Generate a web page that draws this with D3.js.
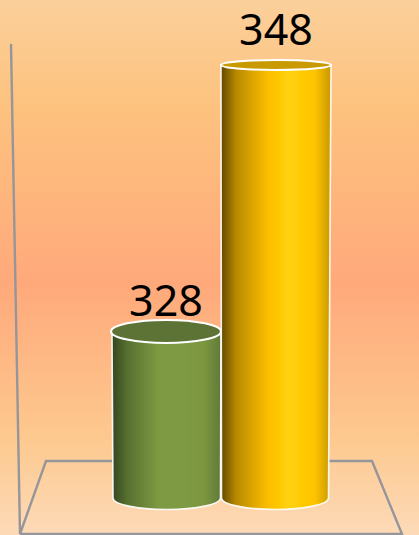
<!DOCTYPE html>
<html><head><meta charset="utf-8">
<style>html,body{margin:0;padding:0;overflow:hidden;background:#fdd9b5}svg{display:block}</style>
<script src="https://cdn.jsdelivr.net/npm/d3@7/dist/d3.min.js"></script>
</head><body><svg id="c" width="419" height="535"></svg>
<script>
const categories = ["A", "B"];
const values = [328, 348];
const sideStops = [
  ["#344620","#56702f","#7d9942","#7f9b43","#7b9640","#5f7a38"],
  ["#614800","#b98a00","#fbbd00","#ffd20a","#ffc400","#c79800"]
];
const stopOffsets = [0, 0.14, 0.42, 0.62, 0.85, 1];
const topFills = ["#5c7335", "#c99a00"];
const bgColors = ["#fbd09b","#fdc27e","#ffa97b","#fdc98f","#fddab8"];
const bgOffsets = [0, 0.2, 0.53, 0.82, 1];

const svg = d3.select("#c");
const defs = svg.append("defs");
const bg = defs.append("linearGradient").attr("id","bg").attr("x1",0).attr("x2",0).attr("y1",0).attr("y2",1);
bgColors.forEach((c,i)=>bg.append("stop").attr("offset",bgOffsets[i]).attr("stop-color",c));
svg.append("rect").attr("width",419).attr("height",535).attr("fill","url(#bg)");

const soft = defs.append("filter").attr("id","soft");
soft.append("feGaussianBlur").attr("stdDeviation",0.35);

const x = d3.scaleBand().domain(categories).range([111,331]).paddingInner(0);
const y = d3.scaleLinear().domain([315.5,348]).range([498,65]);
const ry = 11.5;

// walls/floor frame
const frame = [[11,44],[20,534],[46,461],[372,461],[402,534],[20,534]];
svg.append("path").attr("d",d3.line()(frame)).attr("fill","none").attr("stroke","#96969a").attr("stroke-width",2.4).attr("filter","url(#soft)");

categories.forEach((c,i)=>{
  const g = defs.append("linearGradient").attr("id","s"+i);
  sideStops[i].forEach((col,j)=>g.append("stop").attr("offset",stopOffsets[j]).attr("stop-color",col));
});

const bars = svg.selectAll("g.bar").data(categories).join("g").attr("class","bar").attr("filter","url(#soft)");
bars.each(function(c,i){
  const sel = d3.select(this);
  const x0 = x(c), w = x.bandwidth(), rx = w/2, cx = x0+rx;
  const top = y(values[i]), base = y.range()[0];
  const insetL = i ? 0.5 : 2, insetR = i ? 2.5 : 0.5;
  const side = `M${x0+(i?0:1)},${top} L${x0+insetL},${base} A${(w-insetL-insetR)/2},${ry} 0 0 0 ${x0+w-insetR},${base} L${x0+w},${top} Z`;
  sel.append("path").attr("d",side).attr("fill",`url(#s${i})`).attr("stroke","#fff").attr("stroke-opacity",.9).attr("stroke-width",1.6);
  sel.append("ellipse").attr("cx",cx).attr("cy",top).attr("rx",rx).attr("ry",i?5:ry)
    .attr("fill",topFills[i]).attr("stroke","#fff").attr("stroke-width",2);
});
svg.selectAll("text.val").data(categories).join("text").attr("class","val")
  .attr("x",c=>x(c)+x.bandwidth()/2).attr("y",(c,i)=>y(values[i])-(i?20:15)).attr("text-anchor","middle")
  .attr("font-family","'Noto Sans', 'Open Sans', sans-serif").attr("font-size",43).attr("fill","#000").text((c,i)=>values[i]);
</script></body></html>
